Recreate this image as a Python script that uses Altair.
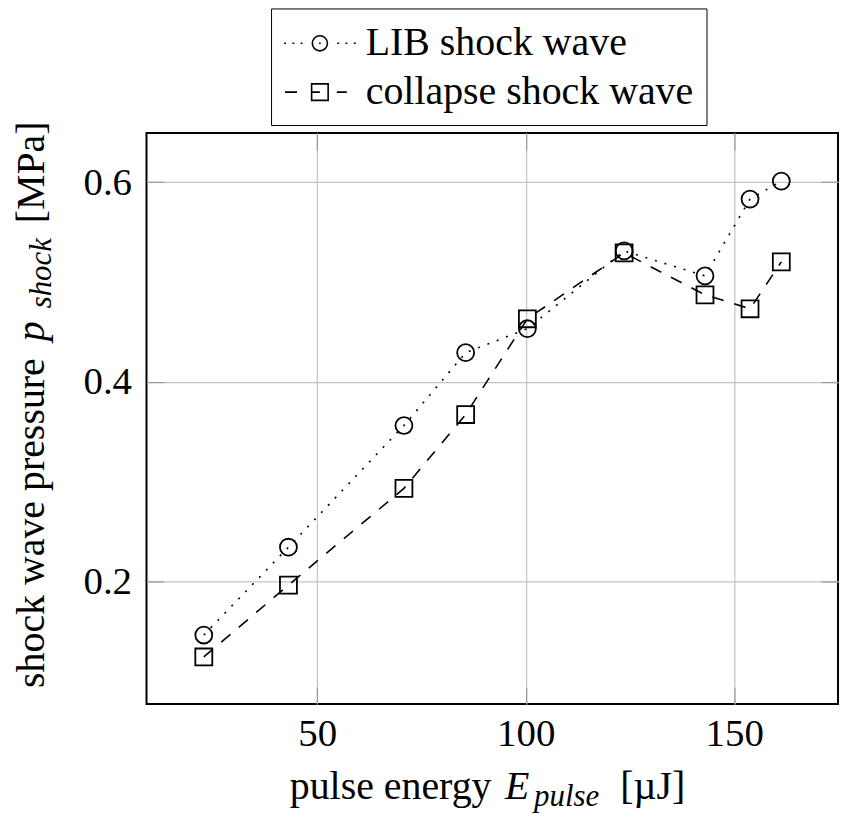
import altair as alt
import pandas as pd

# ---------------- data ----------------
energy = [22.8, 43.1, 70.8, 85.6, 100.4, 123.6, 143.0, 153.8, 161.3]
p_lib = [0.146, 0.234, 0.356, 0.429, 0.453, 0.531, 0.506, 0.583, 0.601]
p_collapse = [0.124, 0.196, 0.293, 0.367, 0.463, 0.529, 0.487, 0.473, 0.520]
series_names = ["LIB shock wave", "collapse shock wave"]
x_ticks = [50, 100, 150]
y_ticks = [0.2, 0.4, 0.6]
x_domain = [9.06, 174.9]
y_domain = [0.0769, 0.6492]

df = pd.DataFrame({
    "energy": energy + energy,
    "p": p_lib + p_collapse,
    "series": [series_names[0]] * len(energy) + [series_names[1]] * len(energy),
})

W, H = 694, 573
FONT = "Liberation Serif"
xs = alt.Scale(domain=x_domain, nice=False, zero=False)
ys = alt.Scale(domain=y_domain, nice=False, zero=False)

main_x = alt.Axis(orient="bottom", values=x_ticks, format="d", title=None,
                  grid=True, gridColor="#c4c4c4", gridWidth=1.2,
                  ticks=False, tickSize=0, domain=False,
                  labelFont=FONT, labelFontSize=39, labelColor="black",
                  labelBaseline="alphabetic", labelPadding=42)
main_y = alt.Axis(orient="left", values=y_ticks, format=".1f", title=None,
                  grid=True, gridColor="#c4c4c4", gridWidth=1.2,
                  ticks=False, tickSize=0, domain=False,
                  labelFont=FONT, labelFontSize=39, labelColor="black",
                  labelBaseline="middle", labelPadding=15)


def tick_axis(orient, values):
    return alt.Axis(orient=orient, values=values, offset=-17, ticks=True, tickSize=17,
                    tickColor="#9a9a9a", tickWidth=1.2, labels=False, domain=False,
                    grid=False, title=None)


lib = alt.datum.series == series_names[0]
col = alt.datum.series == series_names[1]

line_lib = alt.Chart(df).transform_filter(lib).mark_line(
    color="black", strokeWidth=1.6, strokeDash=[2, 8]
).encode(
    x=alt.X("energy:Q", scale=xs, axis=main_x),
    y=alt.Y("p:Q", scale=ys, axis=main_y),
)

line_col = alt.Chart(df).transform_filter(col).mark_line(
    color="black", strokeWidth=1.6, strokeDash=[12, 11]
).encode(
    x=alt.X("energy:Q", scale=xs, axis=tick_axis("bottom", x_ticks)),
    y=alt.Y("p:Q", scale=ys, axis=tick_axis("left", y_ticks)),
)

pts_lib = alt.Chart(df).transform_filter(lib).mark_point(
    shape="circle", filled=False, size=289, strokeWidth=1.8, color="black", opacity=1
).encode(
    x=alt.X("energy:Q", scale=xs, axis=tick_axis("top", x_ticks)),
    y=alt.Y("p:Q", scale=ys, axis=tick_axis("right", y_ticks)),
)

pts_col = alt.Chart(df).transform_filter(col).mark_point(
    shape="square", filled=False, size=289, strokeWidth=1.8, color="black", opacity=1
).encode(
    x=alt.X("energy:Q", scale=xs, axis=None),
    y=alt.Y("p:Q", scale=ys, axis=None),
)

# legend symbols (pixel offsets from the symbol centre, scaled to Vega's
# custom-path unit space: r = sqrt(symbolSize)/2)
SYM_SIZE = 1764
R = (SYM_SIZE ** 0.5) / 2


def u(v):
    return f"{v / R:.3f}"


dots = [-35, -26.6, -18.4, 0, 18.4, 26.6, 35]
cr = 7.6
sym_lib = "".join(f"M{u(d - 0.9)},0h{u(1.8)}" for d in dots) + (
    f"M{u(-cr)},0A{u(cr)},{u(cr)} 0 1,0 {u(cr)},0A{u(cr)},{u(cr)} 0 1,0 {u(-cr)},0Z")
sq = 8.3
sym_col = (f"M{u(-35)},0H{u(-23)}M{u(-sq)},0H0M{u(17)},0H{u(27)}"
           f"M{u(-sq)},{u(-sq)}H{u(sq)}V{u(sq)}H{u(-sq)}Z")

legend_layer = alt.Chart(df).transform_filter("false").mark_point(
    filled=False, color="black", opacity=1
).encode(
    x=alt.X("energy:Q", scale=xs, axis=None),
    y=alt.Y("p:Q", scale=ys, axis=None),
    shape=alt.Shape(
        "series:N",
        scale=alt.Scale(domain=series_names, range=[sym_lib, sym_col]),
        legend=alt.Legend(
            orient="none", legendX=125, legendY=-125, title=None,
            direction="vertical", strokeColor="black", fillColor="white",
            padding=13, labelFont=FONT, labelFontSize=40, labelColor="black",
            labelOffset=24, labelLimit=0, symbolSize=SYM_SIZE, symbolOffset=14,
            symbolStrokeWidth=1.6, symbolStrokeColor="black",
            symbolFillColor="transparent", symbolOpacity=1, rowPadding=7,
        ),
    ),
)


def txt(s, x, y, size=40, style="normal", angle=0, align="center"):
    return alt.Chart(pd.DataFrame({"t": [s]})).mark_text(
        font=FONT, fontSize=size, fontStyle=style, angle=angle,
        align=align, baseline="alphabetic", color="black"
    ).encode(text="t:N", x=alt.value(x), y=alt.value(y))


x_title = [
    txt("pulse energy", 245, 668),
    txt("E", 372, 668, style="italic"),
    txt("pulse", 389, 675, size=31, style="italic", align="left"),
    txt("[µJ]", 508, 668),
]
y_title = [
    txt("shock wave pressure", -103, 391.5, angle=270),
    txt("p", -103, 199, style="italic", angle=270),
    txt("shock", -96, 176, size=31, style="italic", angle=270, align="left"),
    txt("[MPa]", -103, 39.5, angle=270),
]

chart = alt.layer(
    line_lib, line_col, pts_lib, pts_col, legend_layer, *x_title, *y_title
).resolve_axis(x="independent", y="independent").properties(
    width=W, height=H,
    autosize=alt.AutoSizeParams(type="none"),
    padding={"left": 139, "top": 124, "right": 5, "bottom": 110},
).configure_view(stroke="black", strokeWidth=2)

chart.save("out.html", embed_options={"renderer": "svg", "actions": False})
